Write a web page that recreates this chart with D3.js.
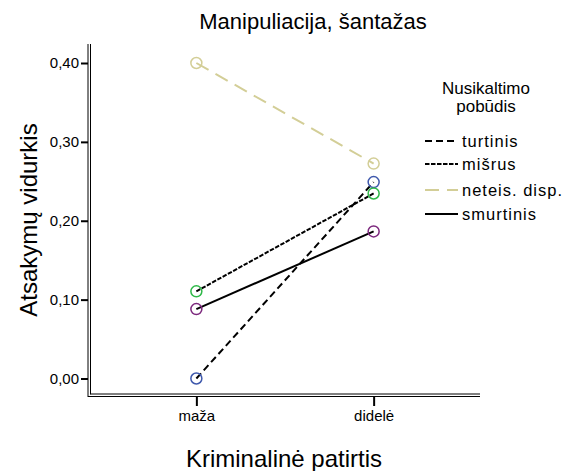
<!DOCTYPE html>
<html><head><meta charset="utf-8">
<script src="https://cdn.jsdelivr.net/npm/d3@7"></script>
<style>body{margin:0;background:#fff}svg{display:block}text{font-family:"Liberation Sans",Arial,sans-serif;fill:#000}</style>
</head><body><svg id="c" width="571" height="471"></svg>
<script>
const categories = ["maža", "didelė"];
const seriesNames = ["turtinis", "mišrus", "neteis. disp.", "smurtinis"];
const turtinis = [0.000, 0.249];
const misrus = [0.1105, 0.2346];
const neteis = [0.400, 0.2725];
const smurtinis = [0.088, 0.1865];
const yTicks = [0, 0.1, 0.2, 0.3, 0.4];
const yTickLabels = ["0,00", "0,10", "0,20", "0,30", "0,40"];
const colors = ["#3e58ac", "#2eb848", "#d3ce97", "#7c287d"];
const lineColors = ["#000", "#000", "#d3ce97", "#000"];
const dashes = ["7,4", "4.5,1.5", "14,8", null];

const svg = d3.select("#c");
const L = 90, R = 480, T = 44;
const x = d3.scalePoint().domain(categories).range([L, R]).padding(0.6);
const y = d3.scaleLinear().domain([0, 0.4]).range([378.5, 63]);

// frame (double lines)
svg.append("line").attr("x1",88).attr("x2",88).attr("y1",T).attr("y2",397).attr("stroke","#000").attr("stroke-width",1);
svg.append("line").attr("x1",90.5).attr("x2",90.5).attr("y1",T).attr("y2",394.5).attr("stroke","#000").attr("stroke-width",1);
svg.append("line").attr("x1",88).attr("x2",R).attr("y1",396.5).attr("y2",396.5).attr("stroke","#000").attr("stroke-width",1);
svg.append("line").attr("x1",90.5).attr("x2",R).attr("y1",394).attr("y2",394).attr("stroke","#000").attr("stroke-width",1);

// y axis
const ya = svg.append("g").attr("transform","translate(88,0)")
  .call(d3.axisLeft(y).tickValues(yTicks).tickFormat((d,i)=>yTickLabels[i]).tickSize(7).tickPadding(2));
ya.select(".domain").remove();
ya.selectAll(".tick line").attr("stroke","#000").attr("stroke-width",2);
ya.selectAll(".tick text").style("font-size","15px").style("font-family","Liberation Sans, Arial, sans-serif");

// x axis
const xa = svg.append("g").attr("transform","translate(0,397)")
  .call(d3.axisBottom(x).tickSize(9).tickPadding(4));
xa.select(".domain").remove();
xa.selectAll(".tick line").attr("stroke","#000").attr("stroke-width",2);
xa.selectAll(".tick text").style("font-size","15px").style("font-family","Liberation Sans, Arial, sans-serif");

// series
const series = [turtinis, misrus, neteis, smurtinis];
const line = d3.line().x((d,i)=>x(categories[i])).y(d=>y(d));
series.forEach((s,k)=>{
  svg.append("path").attr("d", line(s)).attr("fill","none")
    .attr("stroke", lineColors[k]).attr("stroke-width", 2)
    .attr("stroke-dasharray", dashes[k]);
});
series.forEach((s,k)=>{
  svg.selectAll(null).data(s).enter().append("circle")
    .attr("cx",(d,i)=>x(categories[i])).attr("cy",d=>y(d)).attr("r",5.5)
    .attr("fill","none").attr("stroke",colors[k]).attr("stroke-width",1.5);
});

// titles
svg.append("text").attr("x",313).attr("y",29).attr("text-anchor","middle").style("font-size","22px").text("Manipuliacija, šantažas");
svg.append("text").attr("x",284).attr("y",467).attr("text-anchor","middle").style("font-size","24px").text("Kriminalinė patirtis");
svg.append("text").attr("transform","translate(37,220) rotate(-90)").attr("text-anchor","middle").style("font-size","24px").text("Atsakymų vidurkis");

// legend
svg.append("text").attr("x",486).attr("y",94).attr("text-anchor","middle").style("font-size","17px").text("Nusikaltimo");
svg.append("text").attr("x",486).attr("y",112).attr("text-anchor","middle").style("font-size","17px").text("pobūdis");
const rowsY = [141, 164, 190, 214];
seriesNames.forEach((n,k)=>{
  svg.append("line").attr("x1",425).attr("x2",458).attr("y1",rowsY[k]).attr("y2",rowsY[k])
    .attr("stroke",lineColors[k]).attr("stroke-width",2).attr("stroke-dasharray",dashes[k]);
  svg.append("text").attr("x",462).attr("y",rowsY[k]+6).style("font-size","16.5px").style("letter-spacing","1px").text(n);
});
</script></body></html>
